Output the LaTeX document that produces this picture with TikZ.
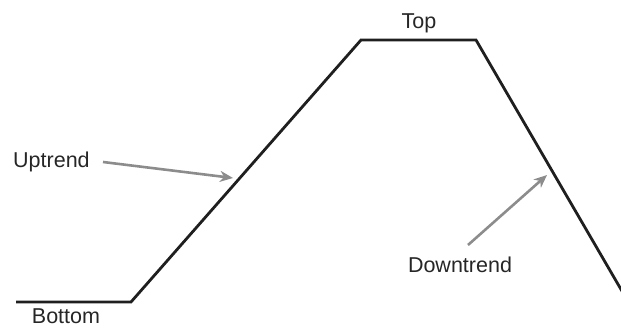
\documentclass[tikz,border=0pt]{standalone}
\usepackage{fontspec}
\setmainfont{Liberation Sans}
\usetikzlibrary{arrows.meta}
\begin{document}
\begin{tikzpicture}[x=1pt,y=-1pt,
  trend/.style={line width=2.8pt,draw=black!88,line join=miter},
  pointer/.style={line width=2.6pt,draw=black!45,-{Stealth[length=13pt,width=11pt,inset=4pt]}},
  lbl/.style={font=\fontsize{21.5}{23}\selectfont,text=black!85,inner sep=0pt}]
\useasboundingbox (0,0) rectangle (621,328);
\coordinate (b0) at (16,302);
\coordinate (b1) at (131,302);
\coordinate (t0) at (361,40);
\coordinate (t1) at (476,40);
\coordinate (e) at (626,298);
\draw[trend] (b0) -- (b1) -- (t0) -- (t1) -- (e);
\node[lbl] (top) at (419,23) {Top};
\node[lbl] (bottom) at (66,316) {Bottom};
\node[lbl,anchor=west] (up) at (13,162) {Uptrend};
\node[lbl] (down) at (460,265) {Downtrend};
\coordinate (upt) at (233,178);
\coordinate (dnt) at (547,175);
\draw[pointer] (103,162) -- (upt);
\draw[pointer] (468,245) -- (dnt);
\end{tikzpicture}
\end{document}
